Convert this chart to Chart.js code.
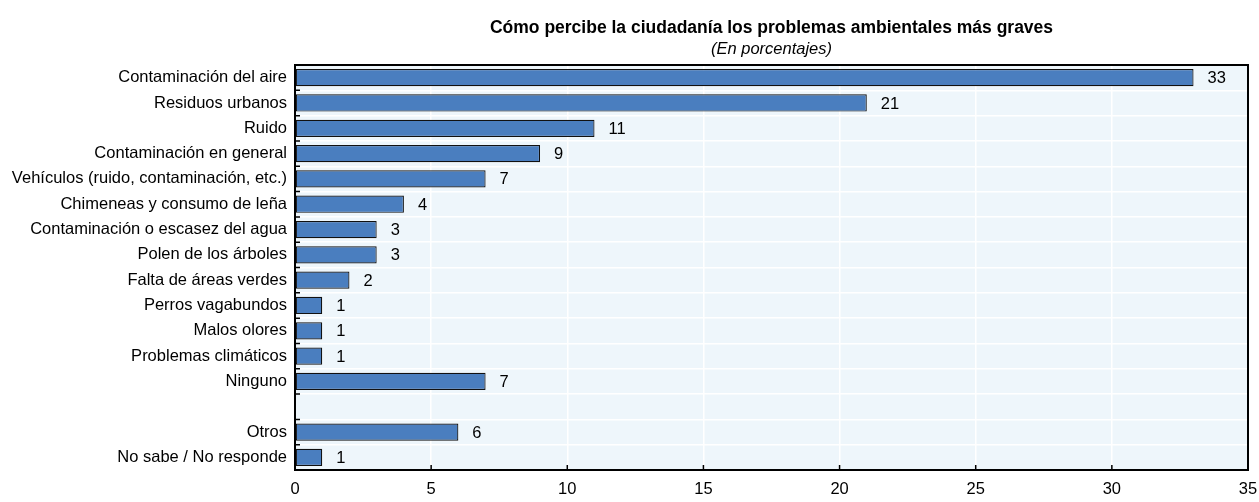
<!DOCTYPE html>
<html>
<head>
<meta charset="utf-8">
<script src="https://cdn.jsdelivr.net/npm/chart.js@4"></script>
<style>
  html, body { margin: 0; padding: 0; background: #ffffff; }
  #wrap { width: 1259px; height: 502px; position: relative; }
</style>
</head>
<body>
<div id="wrap"><canvas id="chart"></canvas></div>
<script>
// Chart data
const categories = [
    'Contaminación del aire',
    'Residuos urbanos',
    'Ruido',
    'Contaminación en general',
    'Vehículos (ruido, contaminación, etc.)',
    'Chimeneas y consumo de leña',
    'Contaminación o escasez del agua',
    'Polen de los árboles',
    'Falta de áreas verdes',
    'Perros vagabundos',
    'Malos olores',
    'Problemas climáticos',
    'Ninguno',
    '',
    'Otros',
    'No sabe / No responde'
];
const values = [33, 21, 11, 9, 7, 4, 3, 3, 2, 1, 1, 1, 7, null, 6, 1];
const xTicks = [0, 5, 10, 15, 20, 25, 30, 35];

const titleText = 'Cómo percibe la ciudadanía los problemas ambientales más graves';
const subtitleText = '(En porcentajes)';

const FONT = '"Liberation Sans", Arial, sans-serif';
const FS = 16.5;

// Plot background, frame, ticks, value labels and titles
const decorPlugin = {
    id: 'decor',
    beforeDraw(chart) {
        const { ctx, chartArea: a } = chart;
        ctx.save();
        ctx.fillStyle = '#eef6fb';
        ctx.fillRect(a.left, a.top, a.right - a.left, a.bottom - a.top);
        ctx.restore();
    },
    afterDraw(chart) {
        const { ctx, chartArea: a, scales } = chart;
        const x = scales.x, y = scales.y;
        ctx.save();

        // frame
        ctx.strokeStyle = '#000';
        ctx.lineWidth = 2;
        ctx.strokeRect(a.left, a.top, a.right - a.left, a.bottom - a.top);

        // left ticks at category boundaries
        ctx.lineWidth = 1.5;
        ctx.beginPath();
        for (let i = 1; i < categories.length; i++) {
            const py = (y.getPixelForValue(i - 1) + y.getPixelForValue(i)) / 2;
            ctx.moveTo(a.left, py);
            ctx.lineTo(a.left + 5, py);
        }
        // bottom ticks
        xTicks.forEach(v => {
            const px = x.getPixelForValue(v);
            ctx.moveTo(px, a.bottom);
            ctx.lineTo(px, a.bottom - 5);
        });
        ctx.stroke();

        // value labels
        ctx.fillStyle = '#000';
        ctx.font = FS + 'px ' + FONT;
        ctx.textAlign = 'left';
        ctx.textBaseline = 'middle';
        const meta = chart.getDatasetMeta(0);
        meta.data.forEach((bar, i) => {
            if (values[i] == null) return;
            ctx.fillText(String(values[i]), bar.x + 14, bar.y + 1);
        });

        // titles centred on the plot area
        const cx = (a.left + a.right) / 2;
        ctx.textAlign = 'center';
        ctx.font = 'bold 17.5px ' + FONT;
        ctx.fillText(titleText, cx, 28);
        ctx.font = 'italic ' + FS + 'px ' + FONT;
        ctx.fillText(subtitleText, cx, 49);
        ctx.restore();
    }
};

const ctx = document.getElementById('chart');
new Chart(ctx, {
    type: 'bar',
    data: {
        labels: categories,
        datasets: [{
            data: values,
            backgroundColor: '#4a7ebf',
            borderColor: '#111111',
            borderWidth: 1.2,
            borderSkipped: false,
            barPercentage: 0.68,
            categoryPercentage: 1
        }]
    },
    options: {
        indexAxis: 'y',
        responsive: true,
        maintainAspectRatio: false,
        animation: false,
        layout: { padding: { top: 65, right: 0, bottom: 0, left: 0 } },
        plugins: {
            legend: { display: false },
            title: { display: false },
            tooltip: { enabled: false }
        },
        scales: {
            x: {
                min: 0,
                max: 35,
                afterBuildTicks(scale) {
                    scale.ticks = xTicks.map(v => ({ value: v }));
                },
                afterFit(scale) {
                    scale.height = 32;
                    scale.paddingLeft = 0;
                    scale.paddingRight = 11;
                },
                border: { display: false },
                grid: { color: '#ffffff', lineWidth: 1.5, drawTicks: false },
                ticks: {
                    color: '#000',
                    padding: 10,
                    font: { family: FONT, size: FS }
                }
            },
            y: {
                afterFit(scale) { scale.width = 295; },
                border: { display: false },
                grid: { color: '#ffffff', lineWidth: 1.5, drawTicks: false, offset: true },
                ticks: {
                    color: '#000',
                    padding: 8,
                    autoSkip: false,
                    font: { family: FONT, size: FS }
                }
            }
        }
    },
    plugins: [decorPlugin]
});
</script>
</body>
</html>
